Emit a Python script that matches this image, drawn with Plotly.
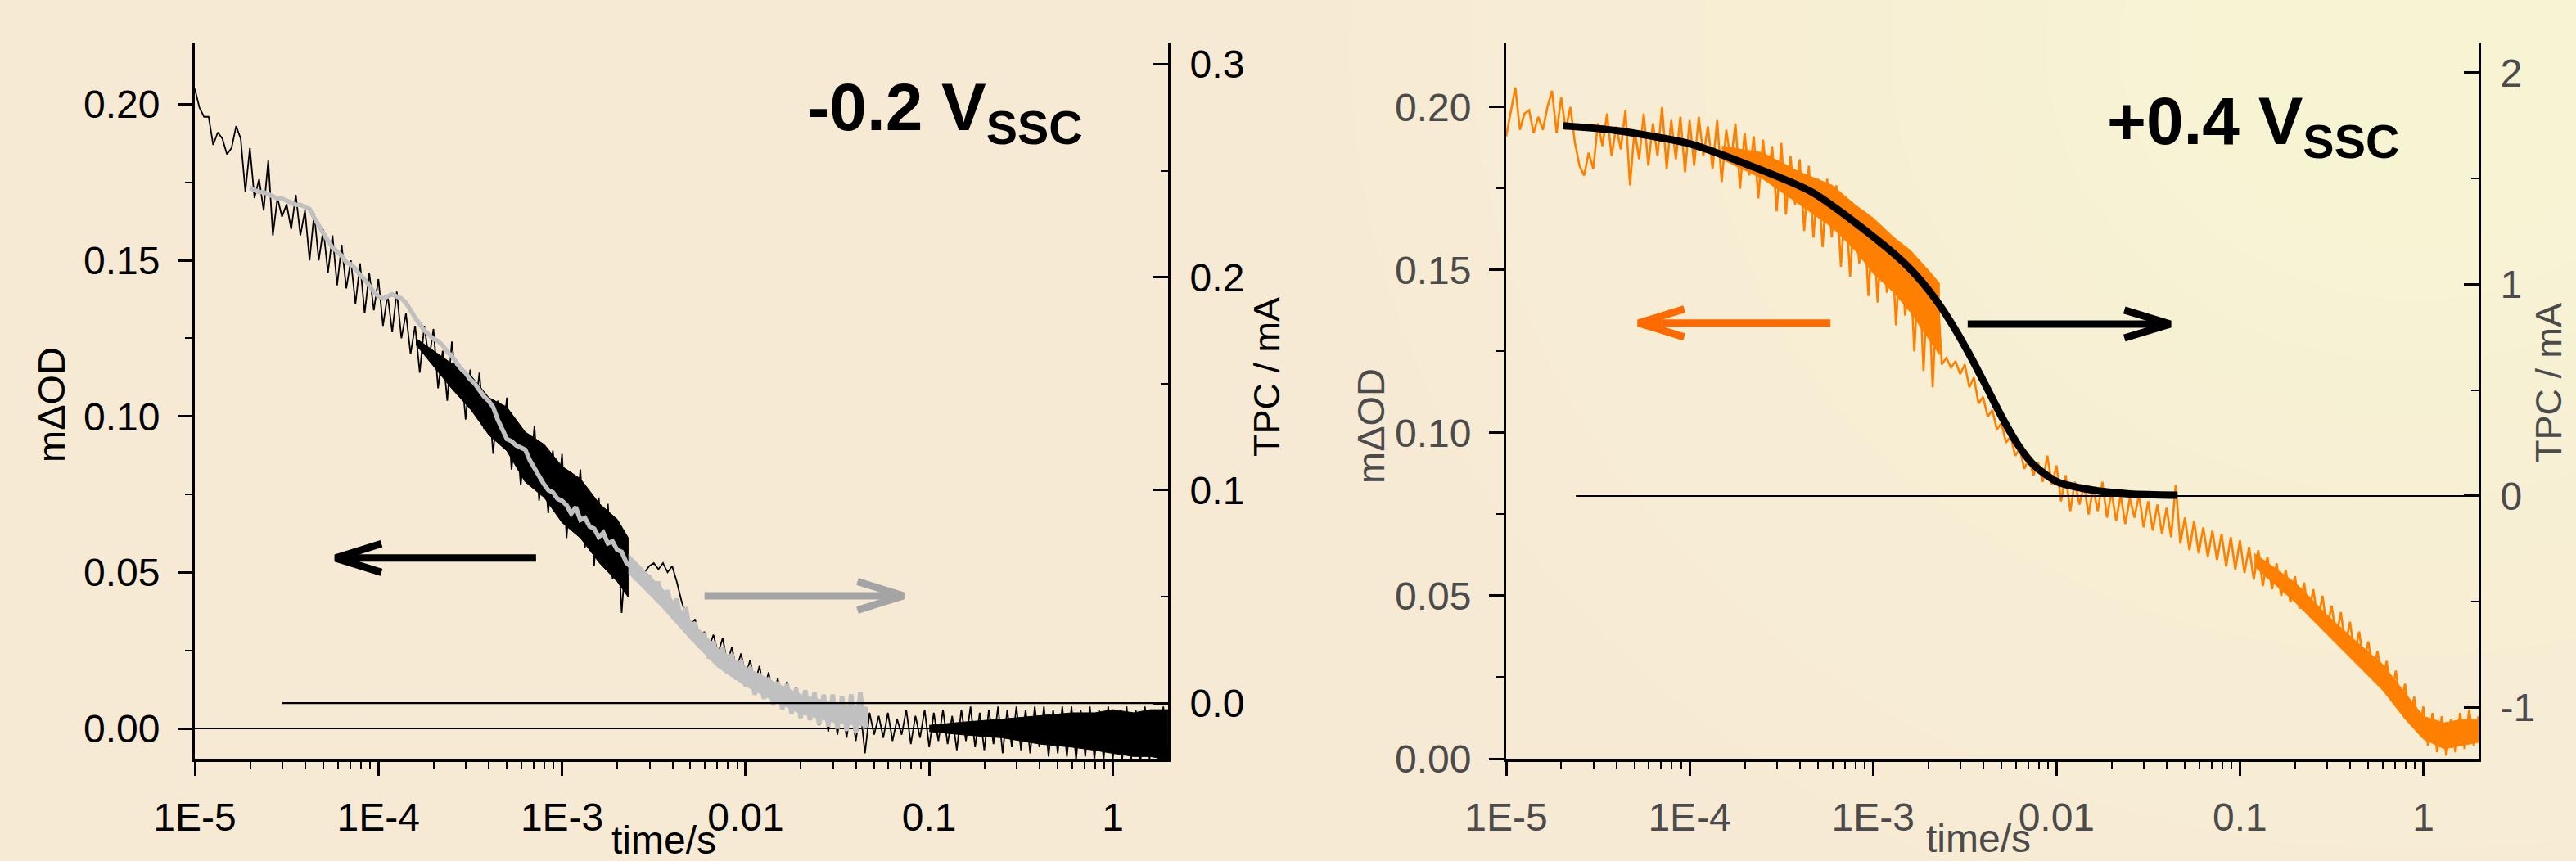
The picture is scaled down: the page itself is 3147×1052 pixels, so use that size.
import plotly.graph_objects as go

W, H = 3147, 1052

# ---------------- data ----------------
t_grid = [
    1.000e-5, 1.059e-5, 1.122e-5, 1.189e-5, 1.259e-5, 1.334e-5, 1.413e-5, 1.496e-5, 1.585e-5, 1.679e-5,
    1.778e-5, 1.884e-5, 1.995e-5, 2.113e-5, 2.239e-5, 2.371e-5, 2.512e-5, 2.661e-5, 2.818e-5, 2.985e-5,
    3.162e-5, 3.350e-5, 3.548e-5, 3.758e-5, 3.981e-5, 4.217e-5, 4.467e-5, 4.732e-5, 5.012e-5, 5.309e-5,
    5.623e-5, 5.957e-5, 6.310e-5, 6.683e-5, 7.079e-5, 7.499e-5, 7.943e-5, 8.414e-5, 8.913e-5, 9.441e-5,
    1.000e-4, 1.059e-4, 1.122e-4, 1.189e-4, 1.259e-4, 1.334e-4, 1.413e-4, 1.496e-4, 1.585e-4, 1.679e-4,
    1.778e-4, 1.884e-4, 1.995e-4, 2.113e-4, 2.239e-4, 2.371e-4, 2.512e-4, 2.661e-4, 2.818e-4, 2.985e-4,
    3.162e-4, 3.350e-4, 3.548e-4, 3.758e-4, 3.981e-4, 4.217e-4, 4.467e-4, 4.732e-4, 5.012e-4, 5.309e-4,
    5.623e-4, 5.957e-4, 6.310e-4, 6.683e-4, 7.079e-4, 7.499e-4, 7.943e-4, 8.414e-4, 8.913e-4, 9.441e-4,
    1.000e-3, 1.059e-3, 1.122e-3, 1.189e-3, 1.259e-3, 1.334e-3, 1.413e-3, 1.496e-3, 1.585e-3, 1.679e-3,
    1.778e-3, 1.884e-3, 1.995e-3, 2.113e-3, 2.239e-3, 2.371e-3, 2.512e-3, 2.661e-3, 2.818e-3, 2.985e-3,
    3.162e-3, 3.350e-3, 3.548e-3, 3.758e-3, 3.981e-3, 4.217e-3, 4.467e-3, 4.732e-3, 5.012e-3, 5.309e-3,
    5.623e-3, 5.957e-3, 6.310e-3, 6.683e-3, 7.079e-3, 7.499e-3, 7.943e-3, 8.414e-3, 8.913e-3, 9.441e-3,
    1.000e-2, 1.059e-2, 1.122e-2, 1.189e-2, 1.259e-2, 1.334e-2, 1.413e-2, 1.496e-2, 1.585e-2, 1.679e-2,
    1.778e-2, 1.884e-2, 1.995e-2, 2.113e-2, 2.239e-2, 2.371e-2, 2.512e-2, 2.661e-2, 2.818e-2, 2.985e-2,
    3.162e-2, 3.350e-2, 3.548e-2, 3.758e-2, 3.981e-2, 4.217e-2, 4.467e-2, 4.732e-2, 5.012e-2, 5.309e-2,
    5.623e-2, 5.957e-2, 6.310e-2, 6.683e-2, 7.079e-2, 7.499e-2, 7.943e-2, 8.414e-2, 8.913e-2, 9.441e-2,
    1.000e-1, 1.059e-1, 1.122e-1, 1.189e-1, 1.259e-1, 1.334e-1, 1.413e-1, 1.496e-1, 1.585e-1, 1.679e-1,
    1.778e-1, 1.884e-1, 1.995e-1, 2.113e-1, 2.239e-1, 2.371e-1, 2.512e-1, 2.661e-1, 2.818e-1, 2.985e-1,
    3.162e-1, 3.350e-1, 3.548e-1, 3.758e-1, 3.981e-1, 4.217e-1, 4.467e-1, 4.732e-1, 5.012e-1, 5.309e-1,
    5.623e-1, 5.957e-1, 6.310e-1, 6.683e-1, 7.079e-1, 7.499e-1, 7.943e-1, 8.414e-1, 8.913e-1, 9.441e-1,
    1.000, 1.059, 1.122, 1.189, 1.259, 1.334, 1.413, 1.496, 1.585, 1.679,
    1.778, 1.884, 1.995,
]

# left panel: transient absorption (mΔOD), black
od_left = [
    0.205, 0.199, 0.196, 0.196, 0.187, 0.191, 0.189, 0.184, 0.186, 0.193,
    0.189, 0.172, 0.186, 0.170, 0.176, 0.166, 0.182, 0.158, 0.170, 0.164,
    0.168, 0.160, 0.171, 0.158, 0.166, 0.150, 0.165, 0.150, 0.160, 0.146,
    0.158, 0.142, 0.155, 0.141, 0.150, 0.136, 0.149, 0.133, 0.146, 0.134,
    0.144, 0.129, 0.139, 0.127, 0.140, 0.125, 0.133, 0.120, 0.129, 0.114,
    0.129, 0.118, 0.128, 0.109, 0.121, 0.105, 0.124, 0.110, 0.116, 0.099,
    0.115, 0.101, 0.114, 0.096, 0.106, 0.088, 0.105, 0.093, 0.106, 0.083,
    0.097, 0.078, 0.092, 0.080, 0.097, 0.073, 0.086, 0.069, 0.089, 0.072,
    0.088, 0.061, 0.082, 0.066, 0.083, 0.058, 0.075, 0.052, 0.074, 0.056,
    0.072, 0.048, 0.065, 0.037, 0.058, 0.050, 0.048, 0.051, 0.050, 0.052,
    0.053, 0.051, 0.053, 0.050, 0.052, 0.047, 0.041, 0.036, 0.033, 0.035,
    0.028, 0.031, 0.026, 0.030, 0.024, 0.029, 0.021, 0.026, 0.019, 0.024,
    0.017, 0.022, 0.014, 0.020, 0.012, 0.018, 0.010, 0.016, 0.008, 0.015,
    0.006, 0.013, 0.004, 0.012, 0.003, 0.011, 0.001, 0.010, -0.001, 0.009,
    -0.002, 0.008, -0.003, 0.007, -0.004, 0.006, -0.008, 0.005, -0.002, 0.004,
    -0.003, 0.005, -0.004, 0.003, -0.002, 0.006, -0.005, 0.004, -0.003, 0.006,
    -0.006, 0.005, -0.004, 0.006, -0.005, 0.004, -0.007, 0.006, -0.004, 0.007,
    -0.006, 0.005, -0.007, 0.006, -0.005, 0.007, -0.008, 0.006, -0.006, 0.007,
    -0.007, 0.006, -0.008, 0.007, -0.006, 0.007, -0.009, 0.006, -0.008, 0.007,
    -0.009, 0.007, -0.010, 0.006, -0.009, 0.007, -0.010, 0.006, -0.010, 0.007,
    -0.010, 0.006, -0.011, 0.007, -0.010, 0.006, -0.011, 0.007, -0.010, 0.006,
    -0.011, 0.007, -0.009,
]
# dense-noise envelopes of the black trace
od_left_band1_t = [1.6e-4, 2.0e-4, 2.5e-4, 3.2e-4, 4.0e-4, 5.0e-4, 6.3e-4, 8.0e-4, 1.0e-3,
                   1.26e-3, 1.6e-3, 2.0e-3, 2.3e-3]
od_left_band1_hi = [0.125, 0.121, 0.117, 0.113, 0.106, 0.103, 0.095, 0.091, 0.084,
                    0.080, 0.072, 0.067, 0.061]
od_left_band1_lo = [0.123, 0.116, 0.109, 0.102, 0.094, 0.089, 0.079, 0.074, 0.066,
                    0.061, 0.053, 0.047, 0.042]
od_left_band2_t = [0.1, 0.15, 0.25, 0.4, 0.6, 0.8, 1.0, 1.3, 1.6, 1.995]
od_left_band2_hi = [0.001, 0.002, 0.003, 0.004, 0.005, 0.005, 0.006, 0.005, 0.006, 0.006]
od_left_band2_lo = [-0.001, -0.002, -0.003, -0.005, -0.006, -0.007, -0.008, -0.009, -0.009, -0.010]

# left panel: transient photocurrent (TPC / mA), grey; starts at t_grid[12]
tpc_left_start = 12
tpc_left = [
    0.242, 0.241, 0.240, 0.240, 0.239, 0.238, 0.237, 0.237, 0.236, 0.235,
    0.234, 0.234, 0.233, 0.232, 0.228, 0.224, 0.220, 0.217, 0.214, 0.212,
    0.210, 0.207, 0.206, 0.204, 0.201, 0.199, 0.196, 0.193, 0.191, 0.190,
    0.191, 0.192, 0.191, 0.190, 0.188, 0.184, 0.181, 0.178, 0.175, 0.173,
    0.171, 0.170, 0.168, 0.165, 0.163, 0.160, 0.157, 0.155, 0.152, 0.150,
    0.147, 0.144, 0.142, 0.139, 0.133, 0.128, 0.124, 0.123, 0.121, 0.120,
    0.119, 0.114, 0.110, 0.106, 0.103, 0.100, 0.099, 0.096, 0.095, 0.093,
    0.089, 0.092, 0.086, 0.087, 0.083, 0.082, 0.078, 0.080, 0.075, 0.076,
    0.072, 0.071, 0.066, 0.064, 0.058, 0.063, 0.055, 0.060, 0.051, 0.057,
    0.046, 0.053, 0.043, 0.049, 0.038, 0.045, 0.032, 0.038, 0.026, 0.033,
    0.021, 0.029, 0.018, 0.026, 0.014, 0.023, 0.011, 0.020, 0.008, 0.017,
    0.004, 0.014, 0.002, 0.012, -0.001, 0.010, -0.003, 0.009, -0.005, 0.007,
    -0.007, 0.006, -0.008, 0.005, -0.010, 0.004, -0.011, 0.004, -0.012, 0.003,
    -0.013, 0.004, -0.014, 0.005, -0.012,
]
tpc_left_band_t = [2.3e-3, 3.5e-3, 5.0e-3, 7.0e-3, 1.0e-2, 1.5e-2, 2.0e-2, 3.0e-2, 4.6e-2]
tpc_left_band_hi = [0.070, 0.054, 0.039, 0.026, 0.017, 0.009, 0.004, 0.000, -0.002]
tpc_left_band_lo = [0.061, 0.045, 0.030, 0.017, 0.008, 0.000, -0.005, -0.009, -0.011]

# right panel: transient absorption (mΔOD), orange
od_right = [
    0.191, 0.199, 0.206, 0.193, 0.198, 0.199, 0.192, 0.197, 0.193, 0.200,
    0.205, 0.192, 0.203, 0.193, 0.200, 0.189, 0.182, 0.179, 0.186, 0.181,
    0.195, 0.188, 0.198, 0.185, 0.194, 0.187, 0.199, 0.176, 0.193, 0.184,
    0.198, 0.182, 0.195, 0.185, 0.200, 0.181, 0.196, 0.184, 0.197, 0.180,
    0.196, 0.182, 0.197, 0.185, 0.194, 0.181, 0.196, 0.177, 0.193, 0.183,
    0.195, 0.175, 0.192, 0.179, 0.191, 0.172, 0.190, 0.177, 0.188, 0.168,
    0.189, 0.167, 0.185, 0.170, 0.184, 0.162, 0.182, 0.160, 0.178, 0.157,
    0.178, 0.160, 0.176, 0.151, 0.172, 0.148, 0.170, 0.152, 0.168, 0.142,
    0.166, 0.140, 0.163, 0.143, 0.160, 0.133, 0.158, 0.136, 0.154, 0.125,
    0.152, 0.119, 0.149, 0.114, 0.145, 0.121, 0.123, 0.120, 0.122, 0.118,
    0.121, 0.114, 0.117, 0.109, 0.111, 0.105, 0.107, 0.101, 0.103, 0.097,
    0.099, 0.093, 0.095, 0.089, 0.092, 0.087, 0.091, 0.085, 0.093, 0.084,
    0.090, 0.079, 0.087, 0.076, 0.085, 0.078, 0.084, 0.075, 0.083, 0.076,
    0.085, 0.074, 0.082, 0.073, 0.081, 0.072, 0.080, 0.074, 0.081, 0.071,
    0.079, 0.070, 0.078, 0.069, 0.077, 0.068, 0.084, 0.066, 0.074, 0.064,
    0.073, 0.063, 0.071, 0.062, 0.070, 0.061, 0.069, 0.059, 0.068, 0.058,
    0.067, 0.057, 0.065, 0.055, 0.064, 0.053, 0.062, 0.052, 0.060, 0.050,
    0.058, 0.048, 0.056, 0.046, 0.054, 0.044, 0.052, 0.042, 0.050, 0.040,
    0.047, 0.037, 0.045, 0.035, 0.042, 0.032, 0.039, 0.029, 0.036, 0.026,
    0.033, 0.023, 0.030, 0.019, 0.027, 0.016, 0.023, 0.012, 0.019, 0.008,
    0.016, 0.004, 0.014, 0.002, 0.013, 0.001, 0.012, 0.002, 0.014, 0.003,
    0.015, 0.004, 0.013,
]
od_right_band1_t = [1.5e-4, 2.5e-4, 4.0e-4, 6.0e-4, 8.0e-4, 1.0e-3, 1.3e-3, 1.6e-3, 2.0e-3, 2.3e-3]
od_right_band1_hi = [0.188, 0.186, 0.180, 0.176, 0.170, 0.166, 0.160, 0.156, 0.150, 0.146]
od_right_band1_lo = [0.184, 0.178, 0.170, 0.163, 0.156, 0.149, 0.143, 0.137, 0.129, 0.124]
od_right_band2_t = [0.12, 0.2, 0.3, 0.45, 0.6, 0.8, 1.0, 1.3, 1.6, 1.995]
od_right_band2_hi = [0.063, 0.054, 0.044, 0.035, 0.029, 0.020, 0.013, 0.011, 0.012, 0.012]
od_right_band2_lo = [0.059, 0.048, 0.038, 0.028, 0.021, 0.012, 0.006, 0.003, 0.004, 0.005]

# right panel: transient photocurrent (TPC / mA), black
fit_t = [2.05e-5, 3.98e-5, 1.0e-4, 2.09e-4, 4.68e-4, 1.17e-3, 1.62e-3, 2.19e-3, 2.69e-3,
         3.31e-3, 4.07e-3, 5.01e-3, 6.17e-3, 7.59e-3, 1.02e-2, 1.55e-2, 2.51e-2, 4.57e-2]
fit_tpc = [1.750, 1.727, 1.665, 1.565, 1.435, 1.179, 1.067, 0.930, 0.813,
           0.678, 0.530, 0.377, 0.242, 0.143, 0.065, 0.029, 0.010, 0.004]

# baselines
od_zero_left_t = [1.0e-5, 2.0]
tpc_zero_left_t = [3.0e-5, 2.0]
tpc_zero_right_t = [2.4e-5, 2.0]

# axis ticks
x_tickvals = [1e-5, 1e-4, 1e-3, 1e-2, 1e-1, 1]
x_ticktext = ["1E-5", "1E-4", "1E-3", "0.01", "0.1", "1"]
x_minor = [2e-5, 3e-5, 4e-5, 5e-5, 6e-5, 7e-5, 8e-5, 9e-5,
           2e-4, 3e-4, 4e-4, 5e-4, 6e-4, 7e-4, 8e-4, 9e-4,
           2e-3, 3e-3, 4e-3, 5e-3, 6e-3, 7e-3, 8e-3, 9e-3,
           2e-2, 3e-2, 4e-2, 5e-2, 6e-2, 7e-2, 8e-2, 9e-2,
           2e-1, 3e-1, 4e-1, 5e-1, 6e-1, 7e-1, 8e-1, 9e-1]
y4_tickvals = [-1, 0, 1, 2]
y4_ticktext = ["-1", "0", "1", "2"]

# arrows (indicating which axis each trace belongs to)
arrow_tail_t = [7.22e-4, 5.97e-3, 5.86e-4, 3.28e-3]
arrow_tip_t = [5.84e-5, 7.23e-2, 5.26e-5, 4.17e-2]
arrow_y = [0.0546, 0.0425, 0.1337, 0.1334]
arrow_dy = [0.0046, 0.0046, 0.0043, 0.0043]
arrow_color = ["#000000", "#A4A4A4", "#FF6A00", "#000000"]
arrow_axes = [("x", "y"), ("x", "y"), ("x2", "y3"), ("x2", "y3")]

# ---------------- figure ----------------
FONT = "Liberation Sans, Arial, Helvetica, sans-serif"
GREY_TXT = "#4B4B4B"

fig = go.Figure()


def band(t, hi, lo, color, xa, ya):
    fig.add_trace(go.Scatter(x=list(t) + list(t)[::-1], y=list(hi) + list(lo)[::-1],
                             mode="lines", fill="toself", fillcolor=color,
                             line=dict(width=1, color=color), xaxis=xa, yaxis=ya,
                             hoverinfo="skip"))


# left panel
band(od_left_band1_t, od_left_band1_hi, od_left_band1_lo, "black", "x", "y")
band(od_left_band2_t, od_left_band2_hi, od_left_band2_lo, "black", "x", "y")
fig.add_trace(go.Scatter(x=t_grid, y=od_left, mode="lines",
                         line=dict(color="black", width=1.8), xaxis="x", yaxis="y"))
fig.add_trace(go.Scatter(x=od_zero_left_t, y=[0, 0], mode="lines",
                         line=dict(color="black", width=2.2), xaxis="x", yaxis="y"))
band(tpc_left_band_t, tpc_left_band_hi, tpc_left_band_lo, "#C0C0C0", "x", "y2")
fig.add_trace(go.Scatter(x=t_grid[tpc_left_start:tpc_left_start + len(tpc_left)], y=tpc_left,
                         mode="lines", line=dict(color="#C0C0C0", width=5.5), xaxis="x", yaxis="y2"))
fig.add_trace(go.Scatter(x=tpc_zero_left_t, y=[0, 0], mode="lines",
                         line=dict(color="black", width=2.2), xaxis="x", yaxis="y2"))

# right panel
band(od_right_band1_t, od_right_band1_hi, od_right_band1_lo, "#FF8000", "x2", "y3")
band(od_right_band2_t, od_right_band2_hi, od_right_band2_lo, "#FF8000", "x2", "y3")
fig.add_trace(go.Scatter(x=t_grid, y=od_right, mode="lines",
                         line=dict(color="#FF8000", width=2.6), xaxis="x2", yaxis="y3"))
fig.add_trace(go.Scatter(x=tpc_zero_right_t, y=[0, 0], mode="lines",
                         line=dict(color="black", width=2.2), xaxis="x2", yaxis="y4"))
fig.add_trace(go.Scatter(x=fit_t, y=fit_tpc, mode="lines",
                         line=dict(color="black", width=9, shape="spline", smoothing=0.7),
                         xaxis="x2", yaxis="y4"))

HEAD_DEC = 0.25
for tail, tip, yv, dy, col, (xa, ya) in zip(arrow_tail_t, arrow_tip_t, arrow_y, arrow_dy,
                                            arrow_color, arrow_axes):
    back = 10 ** HEAD_DEC if tail > tip else 10 ** (-HEAD_DEC)
    wing_t = tip * back
    fig.add_trace(go.Scatter(x=[tail, tip, None, wing_t, tip, wing_t],
                             y=[yv, yv, None, yv + dy, yv, yv - dy],
                             mode="lines", line=dict(color=col, width=9),
                             xaxis=xa, yaxis=ya))

ydom = [1 - 927 / H, 1 - 52 / H]
xdom1 = [238 / W, 1427 / W]
xdom2 = [1840 / W, 3028 / W]


def xaxis_cfg(domain, anchor, color):
    return dict(type="log", range=[-5, 0.301], domain=domain, anchor=anchor,
                showline=True, linecolor="black", linewidth=3.5,
                ticks="outside", ticklen=17, tickwidth=3, tickcolor="black",
                tickmode="array", tickvals=x_tickvals, ticktext=x_ticktext,
                minor=dict(tickmode="array", tickvals=x_minor, ticks="outside",
                           ticklen=8, tickwidth=2, tickcolor="black", showgrid=False),
                showgrid=False, zeroline=False, ticklabelstandoff=10, automargin=False,
                tickfont=dict(family=FONT, size=48, color=color))


def yleft_cfg(rng, anchor, color):
    return dict(range=rng, domain=ydom, anchor=anchor, showline=True, linecolor="black",
                linewidth=3, ticks="outside", ticklen=18, tickwidth=3, tickcolor="black",
                tickmode="linear", tick0=0, dtick=0.05, tickformat=".2f",
                minor=dict(tickmode="linear", tick0=0, dtick=0.025, ticks="outside",
                           ticklen=9, tickwidth=2, tickcolor="black", showgrid=False),
                showgrid=False, zeroline=False, ticklabelstandoff=12, automargin=False,
                tickfont=dict(family=FONT, size=48, color=color))


layout = dict(
    width=W, height=H, margin=dict(l=0, r=0, t=0, b=0, pad=0, autoexpand=False), autosize=False,
    paper_bgcolor="#F7EAD4", plot_bgcolor="rgba(0,0,0,0)", showlegend=False,
    xaxis=xaxis_cfg(xdom1, "y", "black"),
    xaxis2=xaxis_cfg(xdom2, "y3", GREY_TXT),
    yaxis=yleft_cfg([-0.0097, 0.2198], "x", "black"),
    yaxis3=yleft_cfg([0, 0.2198], "x2", GREY_TXT),
    yaxis2=dict(range=[-0.0261, 0.3102], overlaying="y", side="right", anchor="x",
                showline=True, linecolor="black", linewidth=3,
                ticks="inside", ticklen=18, tickwidth=3, tickcolor="black",
                tickmode="linear", tick0=0, dtick=0.1, tickformat=".1f",
                minor=dict(tickmode="linear", tick0=0, dtick=0.05, ticks="inside",
                           ticklen=9, tickwidth=2, tickcolor="black", showgrid=False),
                showgrid=False, zeroline=False, ticklabelstandoff=14, automargin=False,
                tickfont=dict(family=FONT, size=48, color="black")),
    yaxis4=dict(range=[-1.2418, 2.1431], overlaying="y3", side="right", anchor="x2",
                showline=True, linecolor="black", linewidth=3,
                ticks="inside", ticklen=18, tickwidth=3, tickcolor="black",
                tickmode="array", tickvals=y4_tickvals, ticktext=y4_ticktext,
                minor=dict(tickmode="linear", tick0=0, dtick=0.5, ticks="inside",
                           ticklen=9, tickwidth=2, tickcolor="black", showgrid=False),
                showgrid=False, zeroline=False, ticklabelstandoff=14, automargin=False,
                tickfont=dict(family=FONT, size=48, color=GREY_TXT)),
)

# soft lighter glow toward the upper right of the background
shapes = []
glow_r = [1300, 1150, 1000, 870, 750, 640, 540, 450, 360, 280, 200]
for r in glow_r:
    cx, cy = 2950, 60
    shapes.append(dict(type="circle", xref="paper", yref="paper", layer="below",
                       x0=(cx - r) / W, x1=(cx + r) / W,
                       y0=1 - (cy + r * 0.85) / H, y1=1 - (cy - r * 0.85) / H,
                       fillcolor="#FFFCD6", opacity=0.08, line=dict(width=0)))
layout["shapes"] = shapes


def px_ann(text, x, y, size, color, angle=0, xanchor="center", yanchor="middle"):
    return dict(text=text, x=x / W, y=1 - y / H, xref="paper", yref="paper",
                showarrow=False, textangle=angle, xanchor=xanchor, yanchor=yanchor,
                font=dict(family=FONT, size=size, color=color))


layout["annotations"] = [
    px_ann("mΔOD", 62, 495, 47, "black", angle=-90),
    px_ann("TPC / mA", 1547, 461, 45, "black", angle=-90),
    px_ann("time/s", 811, 1026, 48, "black"),
    px_ann("mΔOD", 1674, 520, 47, GREY_TXT, angle=-90),
    px_ann("TPC / mA", 3114, 468, 45, GREY_TXT, angle=-90),
    px_ann("time/s", 2417, 1024, 48, GREY_TXT),
    px_ann("<b>-0.2 V<sub>SSC</sub></b>", 984, 136, 82, "black", xanchor="left"),
    px_ann("<b>+0.4 V<sub>SSC</sub></b>", 2572, 153, 82, "black", xanchor="left"),
]

fig.update_layout(**layout)
fig.write_html("out.html")
